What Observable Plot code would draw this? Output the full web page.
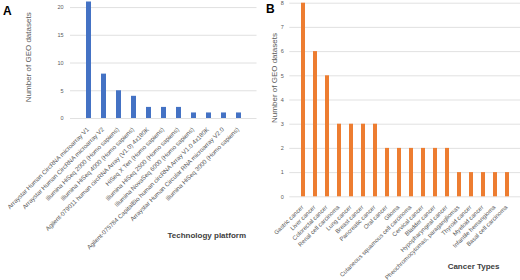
<!DOCTYPE html>
<html>
<head>
<meta charset="utf-8">
<script src="https://cdn.jsdelivr.net/npm/d3@7"></script>
<script src="https://cdn.jsdelivr.net/npm/@observablehq/plot@0.6"></script>
<style>
  html, body { margin: 0; padding: 0; background: #fff; }
  #wrap { position: relative; width: 520px; height: 280px; overflow: hidden; font-family: "Liberation Sans", Arial, sans-serif; }
  .panel { position: absolute; top: 0; }
  .letter { position: absolute; font-weight: bold; font-size: 12px; color: #000; font-family: "Liberation Sans", Arial, sans-serif; }
</style>
</head>
<body>
<div id="wrap"></div>
<script>
// Panel A data
const platforms = [
  "Arraystar Human CircRNA microarray V1",
  "Arraystar Human CircRNA microarray V2",
  "Illumina HiSeq 2000 (Homo sapiens)",
  "Illumina HiSeq 4000 (Homo sapiens)",
  "Agilent-079011 human circRNA Array (V1.0) 4x180K",
  "HiSeq X Ten (Homo sapiens)",
  "Illumina HiSeq 2500 (Homo sapiens)",
  "Illumina NovaSeq 6000 (Homo sapiens)",
  "Agilent-075784 CapitalBio human circRNA Array V1.0 4x180K",
  "Arraystar Human Circular RNA microarray V2.0",
  "Illumina HiSeq 3000 (Homo sapiens)"
];
const platformCounts = [21, 8, 5, 4, 2, 2, 2, 1, 1, 1, 1];
const ticksA = [0, 5, 10, 15, 20];

// Panel B data
const cancers = [
  "Gastric cancer", "Liver cancer", "Colorectal cancer", "Renal cell carcinoma",
  "Lung cancer", "Breast cancer", "Pancreatic cancer", "Oral cancer", "Glioma",
  "Cutaneous squamous cell carcinoma", "Cervical cancer", "Bladder cancer",
  "Hypopharyngeal cancer", "Pheochromocytomas, paragangliomas", "Thyroid cancer",
  "Myeloid cancer", "Infantile hemangioma", "Basal cell carcinoma"
];
const cancerCounts = [8, 6, 5, 3, 3, 3, 3, 2, 2, 2, 2, 2, 2, 1, 1, 1, 1, 1];
const ticksB = [0, 1, 2, 3, 4, 5, 6, 7, 8];

const dataA = platforms.map((p, i) => ({name: p, value: platformCounts[i]}));
const dataB = cancers.map((c, i) => ({name: c, value: cancerCounts[i]}));

const font = '"Liberation Sans", Arial, sans-serif';

const chartA = Plot.plot({
  width: 260, height: 280,
  marginLeft: 70, marginRight: 3.5, marginTop: 1.5, marginBottom: 162,
  style: {fontFamily: font, background: "transparent", overflow: "visible"},
  x: {domain: platforms, padding: 0.7, label: null},
  y: {domain: [0, 21], label: null},
  marks: [
    Plot.gridY(ticksA, {stroke: "#d9d9d9", strokeOpacity: 1, strokeWidth: 0.8}),
    Plot.barY(dataA, {x: "name", y: "value", fill: "#4472C4"}),
    Plot.axisY({ticks: ticksA, tickSize: 0, tickPadding: 7, fontSize: 5.5, fill: "#595959", label: null}),
    Plot.axisX({tickSize: 0, tickRotate: -45, tickPadding: 10, dx: -1, fontSize: 6.2, fill: "#595959", label: null}),
    Plot.text(["Number of GEO datasets"], {frameAnchor: "left", textAnchor: "middle", rotate: -90, dx: -42, dy: -3, fontSize: 8, fill: "#595959"}),
    Plot.text(["Technology platform"], {frameAnchor: "bottom-right", textAnchor: "end", dx: -11, dy: 119, fontSize: 8, fontWeight: "bold", fill: "#404040"})
  ]
});

const chartB = Plot.plot({
  width: 260, height: 280,
  marginLeft: 29.3, marginRight: 0, marginTop: 2.7, marginBottom: 83.7,
  style: {fontFamily: font, background: "transparent", overflow: "visible"},
  x: {domain: cancers, padding: 0.69, label: null},
  y: {domain: [0, 8], label: null},
  marks: [
    Plot.gridY(ticksB, {stroke: "#d9d9d9", strokeOpacity: 1, strokeWidth: 0.8}),
    Plot.barY(dataB, {x: "name", y: "value", fill: "#ED7D31"}),
    Plot.axisY({ticks: ticksB, tickSize: 0, tickPadding: 6, fontSize: 5.5, fill: "#595959", label: null}),
    Plot.axisX({tickSize: 0, tickRotate: -45, tickPadding: 9.5, dx: -1, fontSize: 6, fill: "#595959", label: null}),
    Plot.text(["Number of GEO datasets"], {frameAnchor: "left", textAnchor: "middle", rotate: -90, dx: -15, dy: -22, fontSize: 8, fill: "#595959"}),
    Plot.text(["Cancer Types"], {frameAnchor: "bottom-right", textAnchor: "end", dx: -21, dy: 72, fontSize: 8, fontWeight: "bold", fill: "#404040"})
  ]
});

const wrap = document.getElementById("wrap");
const pa = document.createElement("div"); pa.className = "panel"; pa.style.left = "0px"; pa.appendChild(chartA);
const pb = document.createElement("div"); pb.className = "panel"; pb.style.left = "260px"; pb.appendChild(chartB);
wrap.appendChild(pa); wrap.appendChild(pb);
const la = document.createElement("div"); la.className = "letter"; la.textContent = "A"; la.style.left = "3px"; la.style.top = "4px";
const lb = document.createElement("div"); lb.className = "letter"; lb.textContent = "B"; lb.style.left = "266px"; lb.style.top = "2px";
wrap.appendChild(la); wrap.appendChild(lb);
</script>
</body>
</html>
